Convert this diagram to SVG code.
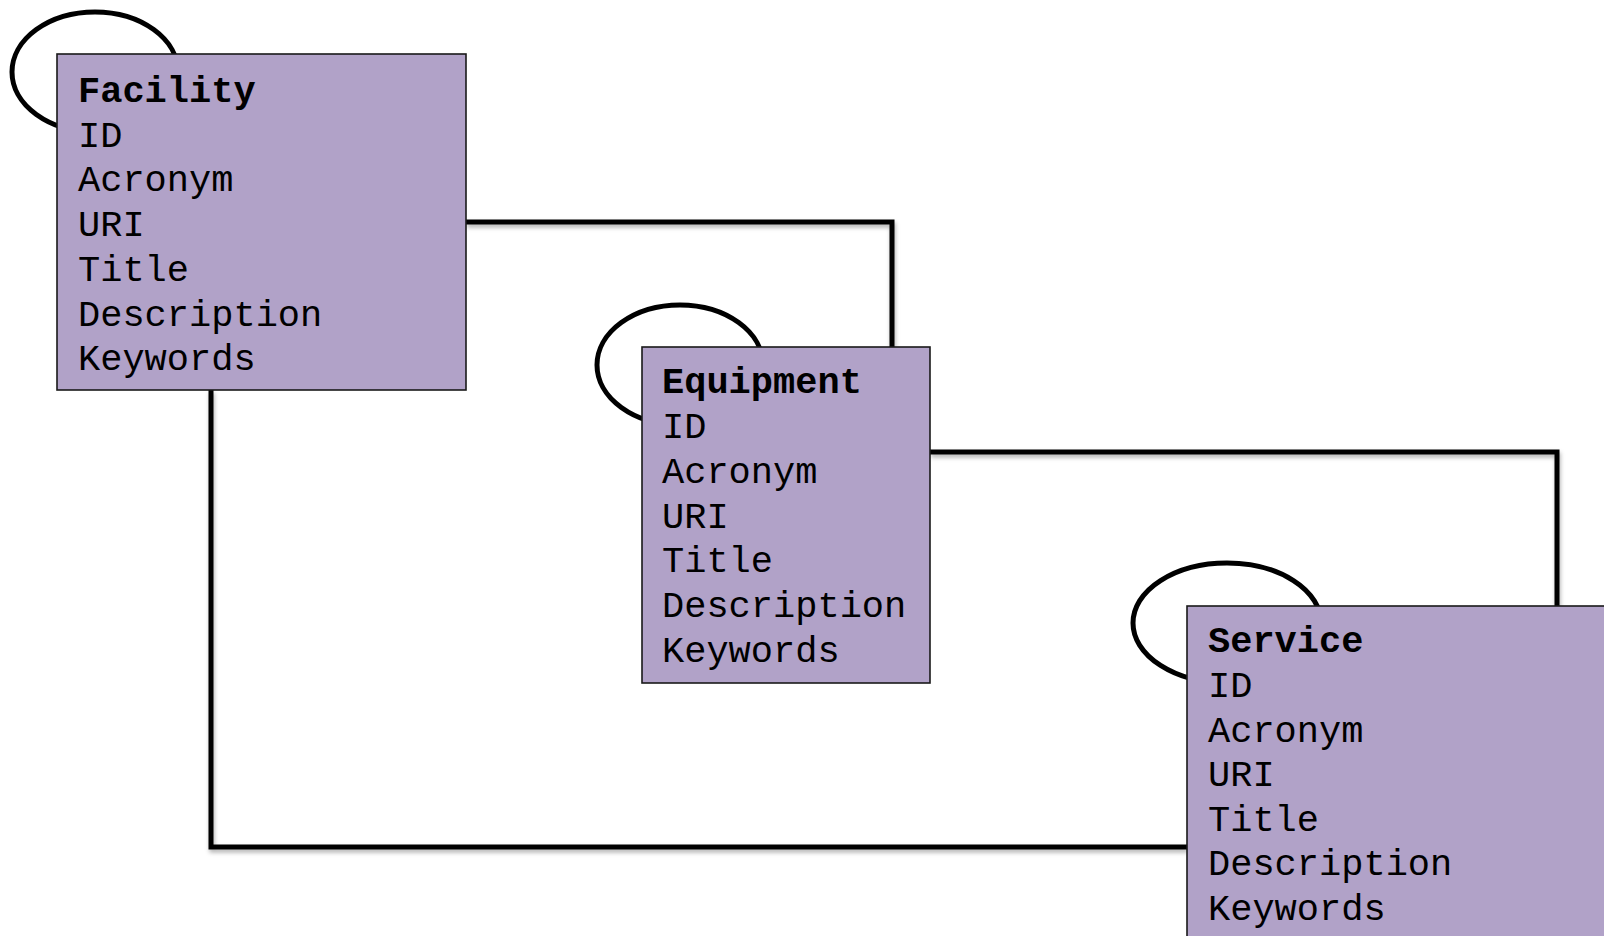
<svg xmlns="http://www.w3.org/2000/svg" width="1604" height="936" viewBox="0 0 1604 936">
<defs>
<filter id="sh" x="-10%" y="-10%" width="120%" height="130%">
<feDropShadow dx="1" dy="3" stdDeviation="2" flood-color="#000" flood-opacity="0.3"/>
</filter>
<style>
.conn{fill:none;stroke:#000;stroke-width:5;stroke-linejoin:miter;filter:url(#sh)}
.loop{fill:none;stroke:#000;stroke-width:5}
.box{fill:#B1A2C8;stroke:#1a1a1a;stroke-width:1.6}
text{font-family:"Liberation Mono","Courier New",monospace;font-size:37px;fill:#000}
.t{font-weight:bold}
</style>
</defs>
<rect width="1604" height="936" fill="#fff"/>
<g id="connectors">
<polyline class="conn" points="466,222 892,222 892,347"/>
<polyline class="conn" points="930,452 1557,452 1557,606"/>
<polyline class="conn" points="211,390 211,847 1187,847"/>
<ellipse class="loop" cx="95" cy="72" rx="83" ry="60"/>
<ellipse class="loop" cx="680" cy="365" rx="83" ry="60"/>
<ellipse class="loop" cx="1227" cy="623" rx="94" ry="60"/>
</g>
<g id="facility">
<rect class="box" x="57" y="54" width="409" height="336"/>
<text x="78" y="102" class="t">Facility</text>
<text x="78" y="146.7">ID</text>
<text x="78" y="191.4">Acronym</text>
<text x="78" y="236.1">URI</text>
<text x="78" y="280.8">Title</text>
<text x="78" y="325.5">Description</text>
<text x="78" y="370.2">Keywords</text>
</g>
<g id="equipment">
<rect class="box" x="642" y="347" width="288" height="336"/>
<text x="662" y="393" class="t">Equipment</text>
<text x="662" y="438">ID</text>
<text x="662" y="483">Acronym</text>
<text x="662" y="528">URI</text>
<text x="662" y="572">Title</text>
<text x="662" y="617">Description</text>
<text x="662" y="662">Keywords</text>
</g>
<g id="service">
<rect class="box" x="1187" y="606" width="430" height="340"/>
<text x="1208" y="652" class="t">Service</text>
<text x="1208" y="697">ID</text>
<text x="1208" y="742">Acronym</text>
<text x="1208" y="786">URI</text>
<text x="1208" y="831">Title</text>
<text x="1208" y="875">Description</text>
<text x="1208" y="920">Keywords</text>
</g>
</svg>
